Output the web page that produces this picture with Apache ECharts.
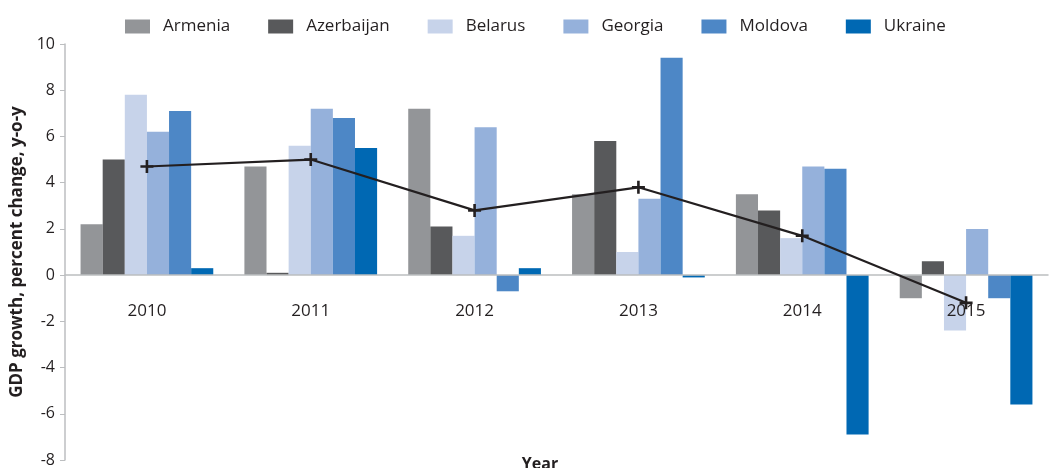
<!DOCTYPE html>
<html lang="en">
<head>
    <meta charset="UTF-8">
    <title>GDP growth</title>
    <script type="text/javascript" src="https://cdn.jsdelivr.net/npm/echarts@6/dist/echarts.min.js"></script>
    <style>
        html, body { margin: 0; padding: 0; background: #fff; }
        #main { width: 1051px; height: 468px; }
    </style>
</head>
<body>
<div id="main"></div>
<script>
    // data
    var years = ['2010', '2011', '2012', '2013', '2014', '2015'];
    var countries = ['Armenia', 'Azerbaijan', 'Belarus', 'Georgia', 'Moldova', 'Ukraine'];
    var armenia    = [2.2, 4.7, 7.2, 3.5, 3.5, -1.0];
    var azerbaijan = [5.0, 0.1, 2.1, 5.8, 2.8, 0.6];
    var belarus    = [7.8, 5.6, 1.7, 1.0, 1.6, -2.4];
    var georgia    = [6.2, 7.2, 6.4, 3.3, 4.7, 2.0];
    var moldova    = [7.1, 6.8, -0.7, 9.4, 4.6, -1.0];
    var ukraine    = [0.3, 5.5, 0.3, -0.1, -6.9, -5.6];
    var average    = [4.7, 5.0, 2.8, 3.8, 1.7, -1.2];
    var yTicks = [-8, -6, -4, -2, 0, 2, 4, 6, 8, 10];

    var colors = ['#939598', '#58595b', '#c7d3ea', '#95b1db', '#4d87c6', '#0068b3'];
    var values = [armenia, azerbaijan, belarus, georgia, moldova, ukraine];
    var font = 'Open Sans';
    var textColor = '#231f20';

    var series = [];
    for (var i = 0; i < countries.length; i++) {
        series.push({
            name: countries[i],
            type: 'bar',
            data: values[i],
            barGap: '0%',
            barCategoryGap: '19%',
            itemStyle: { color: colors[i] }
        });
    }
    series.push({
        name: 'Average',
        type: 'line',
        data: average,
        symbol: 'path://M4,0H6V4H10V6H6V10H4V6H0V4H4Z',
        symbolSize: 13,
        lineStyle: { color: textColor, width: 2.2 },
        itemStyle: { color: textColor },
        z: 5
    });

    var myChart = echarts.init(document.getElementById('main'));
    var option = {
        animation: false,
        color: colors,
        title: {
            text: 'Year',
            left: 535,
            textAlign: 'center',
            top: 451,
            textStyle: { fontFamily: font, fontSize: 16, fontWeight: 'bold', color: textColor }
        },
        legend: {
            data: countries,
            top: 13,
            left: 120,
            itemWidth: 25,
            itemHeight: 14,
            itemGap: 38,
            icon: 'rect',
            textStyle: { fontFamily: font, fontSize: 17, color: textColor, padding: [0, 0, 0, 8] }
        },
        grid: { left: 65, right: 3, top: 44, bottom: 8, outerBoundsMode: 'none', containLabel: false },
        xAxis: {
            type: 'category',
            data: years,
            z: 3, // year labels drawn over the bars
            // the axis sits on the zero line; moved up from the bottom of the grid
            offset: -185,
            axisLine: { onZero: false, lineStyle: { color: '#bcbec0', width: 1.5 } },
            axisTick: { show: false },
            axisLabel: { margin: 28, fontFamily: font, fontSize: 17, color: textColor }
        },
        yAxis: {
            type: 'value',
            min: -8,
            max: 10,
            interval: 2,
            name: 'GDP growth, percent change, y-o-y',
            nameLocation: 'middle',
            nameGap: 38,
            nameTextStyle: { fontFamily: font, fontSize: 17, fontWeight: 'bold', color: textColor },
            axisLine: { show: true, lineStyle: { color: '#bcbec0', width: 1.5 } },
            axisTick: { show: true, length: 5, lineStyle: { color: '#bcbec0' } },
            splitLine: { show: false },
            axisLabel: {
                fontFamily: font, fontSize: 16, color: textColor, margin: 10,
                formatter: function (v) { return yTicks.indexOf(v) >= 0 ? String(v) : ''; }
            }
        },
        series: series
    };
    myChart.setOption(option, true);
</script>
</body>
</html>
